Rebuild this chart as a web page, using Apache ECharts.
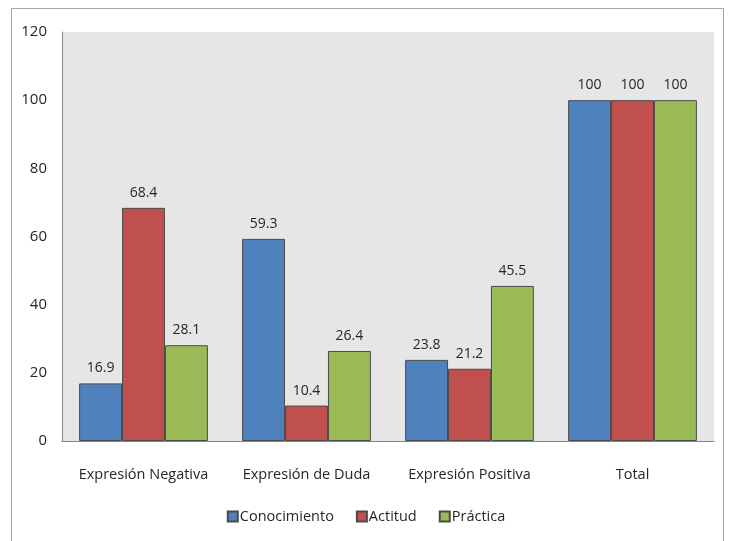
<!DOCTYPE html>
<html>
<head>
<meta charset="utf-8">
<script src="https://cdn.jsdelivr.net/npm/echarts@6/dist/echarts.min.js"></script>
<style>
  html, body { margin: 0; padding: 0; background: #fff; }
  #chart { width: 732px; height: 541px; }
</style>
</head>
<body>
<div id="chart"></div>
<script>
// categories and series
const categories = ['Expresión Negativa', 'Expresión de Duda', 'Expresión Positiva', 'Total'];
const conocimiento = [16.9, 59.3, 23.8, 100];
const actitud = [68.4, 10.4, 21.2, 100];
const practica = [28.1, 26.4, 45.5, 100];
const yTicks = { min: 0, max: 120, interval: 20 };

const font = '"Open Sans", "Liberation Sans", sans-serif';

function barSeries(name, data, color) {
  return {
    name: name,
    type: 'bar',
    data: data,
    barGap: '0%',
    barCategoryGap: '21%',
    itemStyle: { color: color, borderColor: '#4a4a4a', borderWidth: 1 },
    label: {
      show: true,
      position: 'top',
      distance: 8,
      color: '#262626',
      fontFamily: font,
      fontSize: 14
    }
  };
}

const chart = echarts.init(document.getElementById('chart'));
chart.setOption({
  backgroundColor: '#fff',
  animation: false,
  graphic: [{
    type: 'rect',
    shape: { x: 11.5, y: 8.5, width: 712, height: 600 },
    style: { fill: 'none', stroke: '#a6a6a6', lineWidth: 1 },
    z: -10
  }],
  grid: {
    left: 62, right: 18, top: 32, bottom: 100,
    show: true,
    backgroundColor: '#e6e6e6',
    borderWidth: 0
  },
  legend: {
    bottom: 12,
    left: 'center',
    itemWidth: 10,
    itemHeight: 10,
    itemGap: 22,
    icon: 'rect',
    textStyle: { fontFamily: font, fontSize: 14.5, color: '#262626', padding: [0, 0, 0, -3] },
    data: ['Conocimiento', 'Actitud', 'Práctica']
  },
  xAxis: {
    type: 'category',
    data: categories,
    axisLine: { lineStyle: { color: '#868686' } },
    axisTick: { show: false },
    axisLabel: { interval: 0, fontFamily: font, fontSize: 14.5, color: '#262626', margin: 26 }
  },
  yAxis: {
    type: 'value',
    min: yTicks.min,
    max: yTicks.max,
    interval: yTicks.interval,
    splitLine: { show: false },
    axisLine: { show: true, lineStyle: { color: '#868686' } },
    axisTick: { show: false },
    axisLabel: { fontFamily: font, fontSize: 15, color: '#262626', margin: 15 }
  },
  series: [
    barSeries('Conocimiento', conocimiento, '#4f81bd'),
    barSeries('Actitud', actitud, '#c0504d'),
    barSeries('Práctica', practica, '#9bbb59')
  ]
});
</script>
</body>
</html>
